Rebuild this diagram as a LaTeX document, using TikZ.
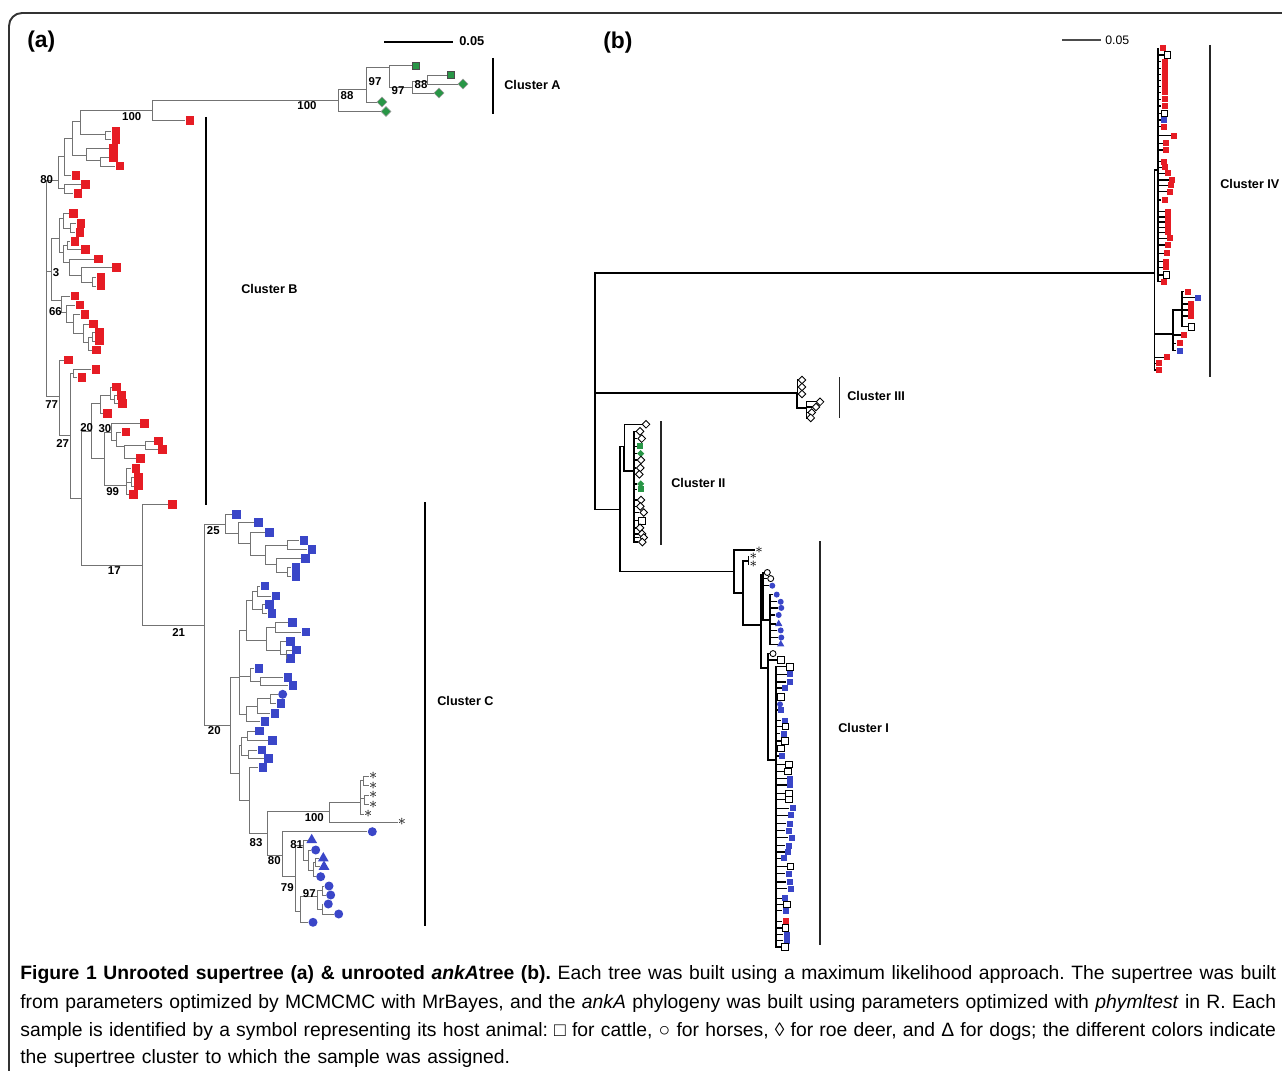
\documentclass[tikz,border=0pt]{standalone}
\usepackage{fontspec}
\setmainfont{Liberation Sans}
\usetikzlibrary{shapes.geometric}
\definecolor{cred}{RGB}{230,28,36}
\definecolor{cblue}{RGB}{58,70,200}
\definecolor{cgreen}{RGB}{40,150,70}
\frenchspacing
\newcommand{\capspace}{\spaceskip=0.34em plus 1em minus 0.06em\relax}

\begin{document}
\begin{tikzpicture}[x=0.02cm, y=-0.02cm]
    \tikzstyle{abr} = [draw=black!55, line width=0.55pt]
    \tikzstyle{bbr} = [draw=black, line width=1pt]
    \tikzstyle{mrs} = [rectangle, fill=cred, inner sep=0pt, minimum size=0.17cm]
    \tikzstyle{mbs} = [rectangle, fill=cblue, inner sep=0pt, minimum size=0.17cm]
    \tikzstyle{mgs} = [rectangle, fill=cgreen, draw=black!70, line width=0.4pt, inner sep=0pt, minimum size=0.15cm]
    \tikzstyle{mgd} = [diamond, fill=cgreen, draw=black!40, line width=0.3pt, inner sep=0pt, minimum size=0.2cm]
    \tikzstyle{mbc} = [circle, fill=cblue, inner sep=0pt, minimum size=0.18cm]
    \tikzstyle{mbt} = [regular polygon, regular polygon sides=3, fill=cblue, inner sep=0pt, minimum size=0.25cm]
    \tikzstyle{mst} = [inner sep=0pt, font=\fontsize{9}{9}\selectfont, execute at begin node={$\ast$}]
    \tikzstyle{srs} = [rectangle, fill=cred, inner sep=0pt, minimum size=0.12cm]
    \tikzstyle{sbs} = [rectangle, fill=cblue, inner sep=0pt, minimum size=0.12cm]
    \tikzstyle{sgs} = [rectangle, fill=cgreen, inner sep=0pt, minimum size=0.12cm]
    \tikzstyle{sos} = [rectangle, draw=black, fill=white, line width=0.5pt, inner sep=0pt, minimum size=0.13cm]
    \tikzstyle{sod} = [diamond, draw=black, fill=white, line width=0.5pt, inner sep=0pt, minimum size=0.16cm]
    \tikzstyle{sgd} = [diamond, fill=cgreen, inner sep=0pt, minimum size=0.15cm]
    \tikzstyle{soc} = [circle, draw=black, fill=white, line width=0.5pt, inner sep=0pt, minimum size=0.12cm]
    \tikzstyle{sbc} = [circle, fill=cblue, inner sep=0pt, minimum size=0.12cm]
    \tikzstyle{sbt} = [regular polygon, regular polygon sides=3, fill=cblue, inner sep=0pt, minimum size=0.17cm]
    \tikzstyle{sst} = [inner sep=0pt, font=\fontsize{8}{8}\selectfont, execute at begin node={$\ast$}]
    \tikzstyle{boot} = [inner sep=0pt, font=\fontsize{6.5}{7}\selectfont\bfseries]
    \tikzstyle{clab} = [inner sep=0pt, anchor=west, font=\fontsize{7.2}{8}\selectfont\bfseries]
    \tikzstyle{plab} = [inner sep=0pt, anchor=west, font=\fontsize{13}{14}\selectfont\bfseries]
    \tikzstyle{abar} = [draw=black, line width=1.7pt]
    \tikzstyle{bbar} = [draw=black!85, line width=0.6pt]
    \tikzstyle{capl} = [inner sep=0pt, anchor=west, font=\fontsize{11}{13}\selectfont]

    \useasboundingbox (0,0) rectangle (1282,1071);
    \draw[line width=1.1pt, black!80, rounded corners=0.26cm] (9,1090) -- (9,13) -- (1300,13);

    % panel (a): supertree
    \node[plab] (pa) at (27,42) {(a)};
    \coordinate (sa0) at (384,42);
    \coordinate (sa1) at (453,42);
    \draw[abar] (sa0) -- (sa1);
    \node[clab, font=\fontsize{7.3}{8}\selectfont\bfseries] (sal) at (459,41) {0.05};

    \foreach \n/\x/\y in {aT/46.7/288, aP6/58.3/180, aP5/64.3/156.7, aP7/64.3/188.3, aP2/72.7/138.3,
        aP1/80/121.7, aP3/86.7/155, aP4/100/160, a1/152/110.7, aB1/105/134.3,
        aA0/338/100, aA1/366/89.5, aA2/389/67, aA3/412/87.3, aA4/427/81,
        aC3/51.7/271.7, aQ1/59.3/238.3, aQ2/63.3/218, aQ3/70/228, aQ4/63.3/252, aQ5/67/245,
        aQ6/69.3/262, aQ7/81.7/275, aQ8/92.7/282,
        aN66/61.7/300, aR1/66.7/312, aR2/73.3/322, aR3/83.3/333, aR4/88.3/342, aR5/92.3/337,
        aN27/59.3/396.7, aN70/70/435.7, aS1/73.3/373.3, aN20/81.7/498.3, aU1/91.7/431.7,
        aU2/100/403.3, aU3/110/395, aU4/114.7/399, aN30/104/458.3, aU5/111.7/432.7,
        aU6/116.7/440, aU7/124/446.7, aU9/145/445, aU8/126.7/485, aU10/131/482,
        aN17/142.7/565, aN21/204/625, aN25/225/524, aV1/238.3/533.3, aV2/250.7/543.3,
        aV3/265/555, aV4/287.3/545, aV5/276.7/564.3, aV6/287.3/572,
        aN20c/230/725, aW1/239.3/677.3, aX1/246.7/630, aX3/252.7/600, aX3a/257/591,
        aX3b/262/609, aX4/266.7/640, aX5/275.7/627, aX6/280/650, aX7/286.7/654,
        aX8/250/676.7, aX8b/260/681.3, aX9/246/714, aX10/257.3/706, aX11/270.7/698.7,
        aW2/239.3/773.3, aW3/241.7/745, aW3a/247/737, aW3b/248.3/755, aW4/249.3/800,
        aN83/267.3/833.3, aN100/329/811.7, aY1/360/802.3, aY2/363.3/780.5, aY3/364/798.5,
        aN80/282.3/855, aN79/295/876.7, aN81/303/845, aZ1/308/860, aZ2/313/870, aZ3/315/862.5,
        aN97p/300/911.7, aN97/317.3/896, aZ5/322/890.5, aZ6/322/909}
        \coordinate (\n) at (\x,\y);

    \foreach \p/\c in {aT/aP6, aT/aC3, aT/aN27, aP6/aP5, aP6/aP7, aP5/aP2, aP2/aP1, aP2/aP3,
        aP1/a1, aP1/aB1, a1/aA0, aA0/aA1, aA1/aA2, aA2/aA3, aA3/aA4, aP3/aP4,
        aC3/aQ1, aC3/aN66, aQ1/aQ2, aQ1/aQ4, aQ2/aQ3, aQ4/aQ5, aQ4/aQ6, aQ6/aQ7, aQ7/aQ8,
        aN66/aR1, aR1/aR2, aR2/aR3, aR3/aR4, aR4/aR5,
        aN27/aN70, aN70/aS1, aN70/aN20, aN20/aU1, aN20/aN17, aU1/aU2, aU1/aN30, aU2/aU3,
        aU3/aU4, aN30/aU5, aN30/aU8, aU5/aU6, aU6/aU7, aU7/aU9, aU8/aU10,
        aN17/aN21, aN21/aN25, aN21/aN20c, aN25/aV1, aV1/aV2, aV2/aV3, aV3/aV4, aV3/aV5, aV5/aV6,
        aN20c/aW1, aN20c/aW2, aW1/aX1, aW1/aX8, aW1/aX9, aX1/aX3, aX1/aX4, aX3/aX3a, aX3/aX3b,
        aX4/aX5, aX4/aX6, aX6/aX7, aX8/aX8b, aX9/aX10, aX10/aX11,
        aW2/aW3, aW2/aW4, aW3/aW3a, aW3/aW3b, aW4/aN83, aN83/aN100, aN83/aN80, aN100/aY1,
        aY1/aY2, aY1/aY3, aN80/aN79, aN79/aN81, aN79/aN97p, aN81/aZ1, aZ1/aZ2, aZ2/aZ3,
        aN97p/aN97, aN97/aZ5, aN97/aZ6}
        \draw[abr] (\p) |- (\c);

    \foreach \p/\x/\y/\s [count=\i] in {aA0/386/111.5/mgd, aA1/382/102/mgd, aA2/416/65.7/mgs,
        aA3/439/93/mgd, aA4/451/75/mgs, aA4/463/84/mgd, a1/190/120.7/mrs,
        aB1/116/131/mrs, aB1/116/139.3/mrs, aP3/113.3/148.3/mrs, aP4/113.3/157.7/mrs,
        aP4/120/166/mrs, aP5/76/175.7/mrs, aP7/85.3/184.3/mrs, aP7/78/193.3/mrs,
        aQ2/73.3/213.3/mrs, aQ3/81/223.3/mrs, aQ3/80/232.3/mrs, aQ5/75/241.7/mrs,
        aQ5/85.7/249.3/mrs, aQ6/98.3/259/mrs, aQ7/116.7/267.7/mrs, aQ8/101/277.7/mrs,
        aQ8/101/286/mrs, aN66/75/296/mrs, aR1/80/305/mrs, aR2/85/314.7/mrs, aR3/93.3/324/mrs,
        aR5/99.3/332.7/mrs, aR5/99.3/341/mrs, aR4/96.7/350/mrs,
        aN27/68.7/360/mrs, aS1/96/369.3/mrs, aS1/82/377.3/mrs,
        aU3/116.7/387/mrs, aU4/121.7/395.3/mrs, aU4/122.7/403.7/mrs, aU2/107.3/413.3/mrs,
        aU5/144.7/423.3/mrs, aU6/126/432/mrs, aU9/158.3/441/mrs, aU9/162.7/449.3/mrs,
        aU7/140.7/458.7/mrs, aU8/136/468.3/mrs, aU10/138.3/477.3/mrs, aU10/138.3/486/mrs,
        aU8/133.3/494.3/mrs, aN17/172.3/504.3/mrs,
        aN25/236.7/514.3/mbs, aV1/258.3/522.3/mbs, aV2/269.3/532.3/mbs, aV4/304/540.7/mbs,
        aV4/312/549.3/mbs, aV5/305.3/558.7/mbs, aV6/296/567.3/mbs, aV6/296/576.7/mbs,
        aX3a/265/586/mbs, aX3a/276/596/mbs, aX3b/269.3/604.3/mbs, aX3b/272/613.3/mbs,
        aX5/292.3/622.3/mbs, aX5/306/632/mbs, aX6/290.7/641.7/mbs, aX7/296.3/650/mbs,
        aX7/290.7/658.3/mbs, aX8/259/668.3/mbs, aX8b/288/677.3/mbs, aX8b/293/685.7/mbs,
        aX11/282.7/694.3/mbc, aX11/281/703.3/mbs, aX10/275/713.3/mbs, aX9/265/721.7/mbs,
        aW3a/259.7/731/mbs, aW3a/272.3/740.7/mbs, aW3b/262/750/mbs, aW3b/268.7/758.7/mbs,
        aW4/263/767.7/mbs,
        aY2/373.3/776/mst, aY2/373.3/785.5/mst, aY3/373.3/795/mst, aY3/373.3/804.5/mst,
        aY1/368.3/814/mst, aN100/402/822.3/mst,
        aN80/372.3/831.7/mbc, aN81/311.7/840/mbt, aZ1/315.7/850/mbc, aZ3/323.3/858.3/mbt,
        aZ3/324/866.7/mbt, aZ2/320.7/876.7/mbc, aZ5/329/886/mbc, aZ5/330.7/895/mbc,
        aZ6/328.3/904/mbc, aZ6/338.7/914/mbc, aN97p/313/922.3/mbc}
    {
        \node[\s] (la\i) at (\x,\y) {};
        \draw[abr] (\p) |- (la\i.west);
    }

    \foreach \t/\x/\y [count=\i] in {100/131.7/116.7, 100/307/106, 88/347/96, 97/375/82,
        97/398/91, 88/421/85, 80/46.7/180, 3/56/273, 66/55.5/311.7, 77/51.7/404.5,
        27/62.7/443.3, 20/86.7/427.3, 30/105/428.3, 99/112.7/491.7, 17/114.3/570.7,
        21/178.7/632.3, 25/213.3/530.7, 20/214.3/730.7, 100/314.3/818, 83/256/842.7,
        80/274.3/861, 81/296.7/845, 79/287.3/887.3, 97/309.3/894}
        \node[boot] (bt\i) at (\x,\y) {\t};

    \coordinate (cA0) at (493,58);
    \coordinate (cA1) at (493,114);
    \coordinate (cB0) at (206,117);
    \coordinate (cB1) at (206,505);
    \coordinate (cC0) at (425,502);
    \coordinate (cC1) at (425,926);
    \draw[abar] (cA0) -- (cA1);
    \draw[abar] (cB0) -- (cB1);
    \draw[abar] (cC0) -- (cC1);
    \node[clab] (lA) at (504,85) {Cluster A};
    \node[clab] (lB) at (241,289) {Cluster B};
    \node[clab] (lC) at (437,701) {Cluster C};

    % panel (b): ankA tree
    \node[plab] (pb) at (603,43) {(b)};
    \coordinate (sb0) at (1062,40);
    \coordinate (sb1) at (1101,40);
    \draw[draw=black!70, line width=0.6pt] (sb0) -- (sb1);
    \node[clab, font=\fontsize{7}{8}\selectfont] (sbl) at (1105,40) {0.05};

    \foreach \n/\x/\y in {bR/595/390, b4/1154.5/273.3, b4a/1158/170, b4b/1173/334, b4c/1182/310,
        b3/797.3/393.3, b3a/806.7/408, bX/620/509.6, b2/624.3/446.4, b2c/634/470.7,
        b1/734/571.4, b1a/743.3/592.9, b1s/748.3/560.7, b1b/760.7/625, b1c/763/575,
        b1e/770/620, b1d/768/668, b1f/776/760}
        \coordinate (\n) at (\x,\y);

    \foreach \p/\c in {bR/b4, bR/b3, bR/bX, b4/b4a, b4/b4b, b4b/b4c, b3/b3a, bX/b2, bX/b1,
        b2/b2c, b1/b1a, b1a/b1s, b1a/b1b, b1b/b1c, b1b/b1d, b1c/b1e, b1d/b1f}
        \draw[bbr] (\p) |- (\c);

    \foreach \p/\x/\y/\s [count=\i] in {b4a/1162.8/48.3/srs, b4a/1167.4/55/sos,
        b4a/1164.6/61.7/srs, b4a/1164.6/68.3/srs, b4a/1164.6/74.5/srs, b4a/1164.6/80.5/srs,
        b4a/1164.6/86.5/srs, b4a/1164.6/92.5/srs, b4a/1164.6/99.3/srs, b4a/1164.6/106/srs,
        b4a/1164.6/113.3/sos, b4a/1164/120/sbs, b4a/1164/126.7/srs, b4a/1174.3/135.7/srs,
        b4a/1166/143.3/srs, b4a/1166/150/srs, b4a/1164/161.7/srs, b4a/1165/167.5/srs,
        b4a/1168.3/173.3/srs, b4a/1172/180/srs, b4a/1171/185.5/srs, b4a/1170/191.7/srs,
        b4a/1164.6/200/srs, b4a/1168.3/211.7/srs, b4a/1168.3/216.9/srs, b4a/1168.3/222.1/srs,
        b4a/1168.3/227.3/srs, b4a/1168.3/232.5/srs, b4a/1170/238.3/srs, b4a/1168.3/245/srs,
        b4a/1167.4/253.3/srs, b4a/1166/261.7/srs, b4a/1166/267.2/srs, b4a/1166.5/275/sos,
        b4a/1164/281.7/srs,
        b4c/1187.6/291.7/srs, b4c/1198.2/297.7/sbs, b4c/1191.3/304/srs, b4c/1191.3/310/srs,
        b4c/1191.3/316/srs, b4c/1191.3/326.7/sos, b4b/1184.4/335/srs, b4b/1179.8/343.3/srs,
        b4b/1179.8/350.7/sbs, b4/1167.4/357.3/srs, b4/1159.1/363.3/srs, b4/1159.1/370/srs,
        b3/802/380/sod, b3/802/387/sod, b3/802/394/sod, b3a/820/401.8/sod, b3a/816/407/sod,
        b3a/811.7/412.5/sod, b3a/810.7/417.9/sod,
        b2/646/424.3/sod, b2c/640/431.4/sod, b2c/641.7/438.6/sod, b2c/640/446.4/sgs,
        b2c/640.7/453.6/sgd, b2c/641/460/sod, b2c/640.3/467.9/sod, b2c/639.3/474.3/sod,
        b2c/640.7/483.9/sgd, b2c/640.7/489.3/sgs, b2c/641/500/sod, b2c/640.3/506.4/sod,
        b2c/643.7/512.5/sod, b2c/642/520.7/sos, b2c/640/527.9/sod, b2c/642/533.9/sod,
        b2c/643.7/537.5/sod, b2c/642.3/542.1/sod,
        b1/759/550/sst, b1s/753.3/556.4/sst, b1s/753.3/564.3/sst,
        b1c/767.3/572.5/soc, b1c/770.7/578.6/soc, b1c/772.3/585.7/sbc,
        b1e/776.7/594.6/sbc, b1e/780.7/601.8/sbc, b1e/781.3/607.9/sbc, b1e/778.7/615/sbc,
        b1e/778.7/623.9/sbt, b1e/780.7/630.4/sbc, b1e/781.3/637.5/sbc, b1e/780.7/644.3/sbt,
        b1d/773/653.6/soc, b1d/780.7/660/sos,
        b1f/790/666.8/sos, b1f/790/674.3/sbs, b1f/789.7/682.1/sbs, b1f/785/687.9/sbs,
        b1f/780.7/697.1/sos, b1f/780/704.3/sbc, b1f/781/710/sbs, b1f/784.7/720.7/sbs,
        b1f/785.3/726.4/sos, b1f/783.7/733.6/sbs, b1f/785/741.1/sos, b1f/780.7/748.2/sos,
        b1f/782/756.1/sbs, b1f/789/764.3/sos, b1f/788/771.4/sos, b1f/790/778.6/sbs,
        b1f/790/785/sbs, b1f/788.7/793.6/sos, b1f/788.7/799.3/sos, b1f/792.7/808.2/sbs,
        b1f/791/815.4/sbs, b1f/789.7/823.6/sbs, b1f/788.7/830.7/sbs, b1f/791.7/837.5/sbs,
        b1f/788.7/845.7/sbs, b1f/788/852.1/sbs, b1f/784.3/858.2/sbs, b1f/790.3/866.4/sos,
        b1f/788.7/873.6/sbs, b1f/789.7/882.1/sbs, b1f/790.7/888.6/sbs, b1f/785/898.2/sbs,
        b1f/786.7/904.3/sos, b1f/785.7/910.7/sbs, b1f/785.7/921.4/srs, b1f/785.3/927.9/sos,
        b1f/786.7/934.6/sbs, b1f/786.7/940.7/sbs, b1f/785/947.1/sos}
    {
        \node[\s] (lb\i) at (\x,\y) {};
        \draw[bbr, line width=0.7pt] (\p) |- (lb\i.west);
    }

    \coordinate (cIV0) at (1210,45);
    \coordinate (cIV1) at (1210,377);
    \coordinate (cIII0) at (839.7,377);
    \coordinate (cIII1) at (839.7,418);
    \coordinate (cII0) at (661,421.4);
    \coordinate (cII1) at (661,544.6);
    \coordinate (cI0) at (820,541);
    \coordinate (cI1) at (820,945);
    \draw[bbar] (cIV0) -- (cIV1);
    \draw[bbar] (cIII0) -- (cIII1);
    \draw[bbar] (cII0) -- (cII1);
    \draw[bbar] (cI0) -- (cI1);
    \node[clab] (lIV) at (1220,184) {Cluster IV};
    \node[clab] (lIII) at (847,396) {Cluster III};
    \node[clab] (lII) at (671,483) {Cluster II};
    \node[clab] (lI) at (838,728) {Cluster I};

    % caption
    \node[capl] (cap1) at (20,975) {\capspace\makebox[25.12cm][s]{\textbf{Figure 1 Unrooted supertree (a) \& unrooted \textit{ankA}tree (b).} Each tree was built using a maximum likelihood approach. The supertree was built}};
    \node[capl] (cap2) at (20,1003) {\capspace\makebox[25.12cm][s]{from parameters optimized by MCMCMC with MrBayes, and the \textit{ankA} phylogeny was built using parameters optimized with \textit{phymltest} in R. Each}};
    \node[capl] (cap3) at (20,1031) {\capspace\makebox[25.12cm][s]{sample is identified by a symbol representing its host animal: □ for cattle, ○ for horses, ◊ for roe deer, and Δ for dogs; the different colors indicate}};
    \node[capl] (cap4) at (20,1058) {\capspace the supertree cluster to which the sample was assigned.};
\end{tikzpicture}
\end{document}
